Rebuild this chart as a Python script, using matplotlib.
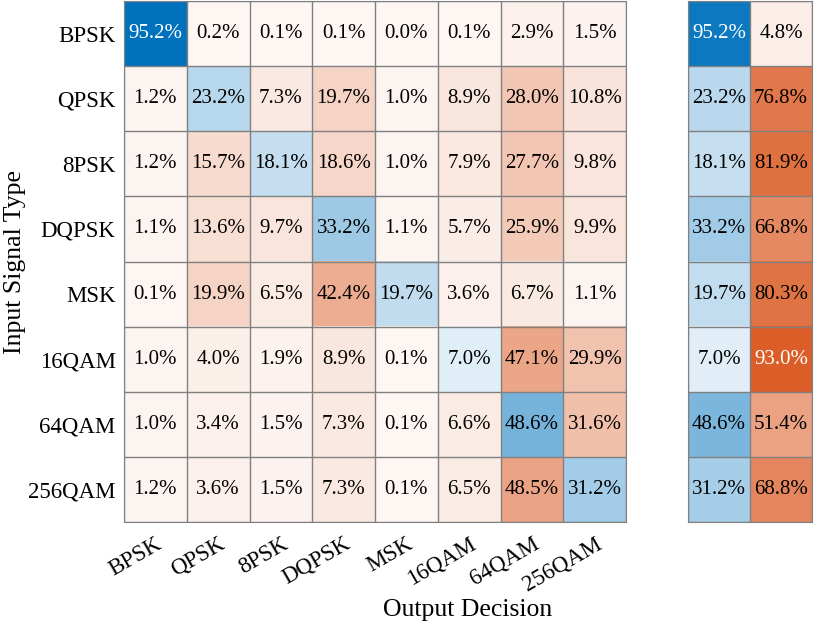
import numpy as np
import matplotlib
matplotlib.use('Agg')
import matplotlib.pyplot as plt

plt.rcParams['font.family'] = ['Liberation Serif', 'DejaVu Serif']

classes = ['BPSK', 'QPSK', '8PSK', 'DQPSK', 'MSK', '16QAM', '64QAM', '256QAM']

# row-normalised confusion matrix in percent (rows = input, cols = output)
conf = np.array([
    [95.2, 0.2, 0.1, 0.1, 0.0, 0.1, 2.9, 1.5],
    [1.2, 23.2, 7.3, 19.7, 1.0, 8.9, 28.0, 10.8],
    [1.2, 15.7, 18.1, 18.6, 1.0, 7.9, 27.7, 9.8],
    [1.1, 13.6, 9.7, 33.2, 1.1, 5.7, 25.9, 9.9],
    [0.1, 19.9, 6.5, 42.4, 19.7, 3.6, 6.7, 1.1],
    [1.0, 4.0, 1.9, 8.9, 0.1, 7.0, 47.1, 29.9],
    [1.0, 3.4, 1.5, 7.3, 0.1, 6.6, 48.6, 31.6],
    [1.2, 3.6, 1.5, 7.3, 0.1, 6.5, 48.5, 31.2],
])
row_correct = [95.2, 23.2, 18.1, 33.2, 19.7, 7.0, 48.6, 31.2]
row_wrong = [4.8, 76.8, 81.9, 66.8, 80.3, 93.0, 51.4, 68.8]

blue = np.array([0, 114, 189]) / 255
orange = np.array([217, 83, 25]) / 255
white = np.ones(3)


def shade(vals, diag_mask, vmax):
    f = 0.05 + 0.95 * vals / vmax
    rgb = np.zeros(vals.shape + (3,))
    for i in range(vals.shape[0]):
        for j in range(vals.shape[1]):
            c = blue if diag_mask[i, j] else orange
            rgb[i, j] = white + (c - white) * f[i, j]
    return rgb, f


def draw(ax, vals, diag_mask, vmax):
    rgb, f = shade(vals, diag_mask, vmax)
    ax.imshow(rgb, aspect='auto', interpolation='nearest')
    n_r, n_c = vals.shape
    for i in range(n_r):
        for j in range(n_c):
            col = 'white' if f[i, j] > 0.9 else 'black'
            ax.text(j, i, f'{vals[i, j]:.1f}%', ha='center', va='center',
                    fontsize=15, color=col)
    ax.set_xticks(np.arange(n_c + 1) - 0.5, minor=True)
    ax.set_yticks(np.arange(n_r + 1) - 0.5, minor=True)
    ax.grid(which='minor', color='#808080', linewidth=1)
    ax.tick_params(which='both', length=0)
    for s in ax.spines.values():
        s.set_color('#808080')


fig = plt.figure(figsize=(8.14, 6.29), dpi=100)
ax = fig.add_axes([124 / 814, 1 - 522 / 629, 502 / 814, 521 / 629])
ax2 = fig.add_axes([688 / 814, 1 - 522 / 629, 124 / 814, 521 / 629])

draw(ax, conf, np.eye(8, dtype=bool), 95.2)
summary = np.column_stack([row_correct, row_wrong])
mask = np.zeros((8, 2), dtype=bool)
mask[:, 0] = True
draw(ax2, summary, mask, 100.0)

ax.set_xticks(range(8))
ax.set_xticklabels(classes, rotation=30, ha='right', rotation_mode='anchor', fontsize=16.5)
ax.set_yticks(range(8))
ax.set_yticklabels(classes, fontsize=16.5)
ax.tick_params(axis='x', pad=8)
ax.tick_params(axis='y', pad=6)
ax2.set_xticks([])
ax2.set_yticks([])

fig.text(468 / 814, 1 - 610 / 629, 'Output Decision', ha='center', va='center', fontsize=18.5)
fig.text(15 / 814, 1 - 262 / 629, 'Input Signal Type', ha='center', va='center',
         rotation=90, fontsize=18.5)

fig.savefig('out.png', dpi=100)
